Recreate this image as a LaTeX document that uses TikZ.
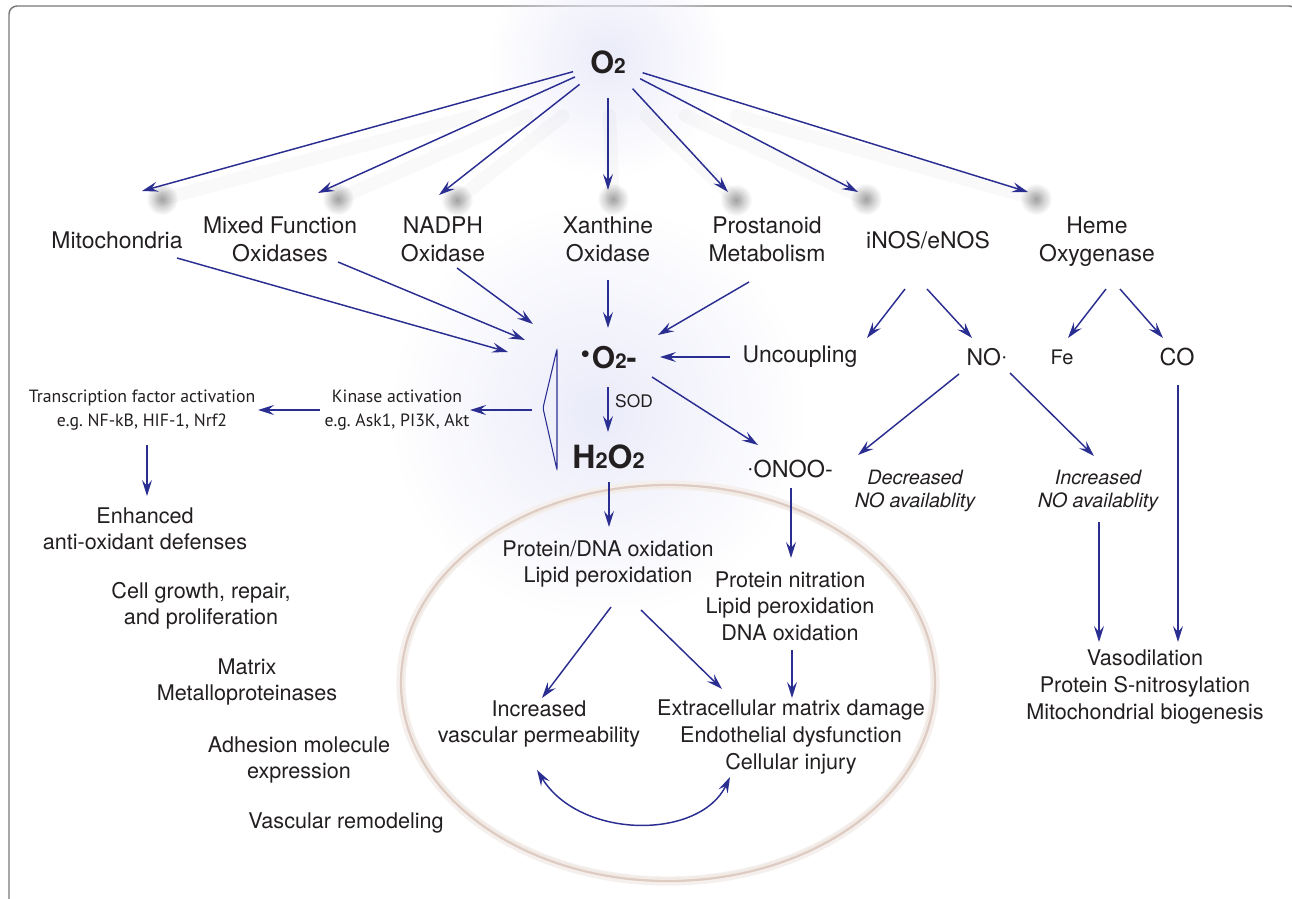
\documentclass[tikz,border=0pt]{standalone}
\usepackage{fontspec}
\setmainfont{TeX Gyre Heros}
\newfontfamily\kinfont{PT Sans}
\usepackage{tikz}
\usetikzlibrary{arrows.meta}
\usetikzlibrary{fadings}
\usetikzlibrary{calc}

\definecolor{rosblue}{RGB}{43,46,145}
\definecolor{rostext}{RGB}{35,31,32}
\definecolor{rosring}{RGB}{222,204,194}
\definecolor{rosglow}{RGB}{234,235,249}
\definecolor{rosframe}{RGB}{120,120,120}

\newcommand{\molsub}[1]{\scalebox{0.68}{#1}}

\tikzfading[name=rosdot, inner color=transparent!0, outer color=transparent!100]

\tikzset{
  every node/.style={text=rostext, inner sep=0.75pt, align=center},
  lbl/.style={font=\fontsize{16.2}{19.9}\selectfont},
  head/.style={font=\fontsize{17.2}{21}\selectfont},
  mol/.style={font=\fontsize{23}{26}\selectfont\bfseries},
  avail/.style={font=\fontsize{14.8}{17.3}\selectfont\itshape},
  kin/.style={font=\kinfont\fontsize{13.3}{18}\selectfont},
  arr/.style={draw=rosblue, line width=1.1pt, -{Stealth[length=12pt,width=7.5pt,inset=4.5pt]}},
  thick arr/.style={arr, line width=1.8pt},
  arrshadow/.style={draw=black, line cap=round},
}

\begin{document}
\begin{tikzpicture}[x=0.75pt,y=0.75pt,yscale=-1,xscale=1]
        \useasboundingbox (0,0) rectangle (1292,899);
        % frame
        \draw[rosframe, line width=1.1pt, rounded corners=6pt] (9,910) -- (9,6) -- (1297,6) -- (1297,910);

        % glows
        \fill[rosglow, path fading=rosdot] (608,58) circle (120);
        \fill[rosglow, path fading=rosdot] (598,412) circle (210);

        % shadows of the upper arrows
        \foreach \x/\y in {162/199, 338/199, 457/200, 613/199, 736/200, 866/199, 1036/199}{
          \fill[black, fill opacity=0.35, path fading=rosdot] (\x,\y) circle (16);
          \draw[arrshadow, draw opacity=0.025, line width=10pt] ($(608,80)!0.3!(\x,\y)$) -- (\x,\y);
        }

        % ring
        \draw[rosring!30, line width=7pt] (668,683) ellipse (267 and 198);
        \draw[rosring, line width=1.7pt] (668,683) ellipse (267 and 198);
        \draw[rosring!45, line width=0.7pt] (668,683) ellipse (264.5 and 195.5);

        % Text Nodes
        \node[mol, circle, minimum size=54pt] (o2) at (608,62) {O\molsub{2}};
        \node[head] (mito) at (117,240) {Mitochondria};
        \node[head] (mixed) at (280,239) {Mixed Function\\Oxidases};
        \node[head] (nadph) at (443,239) {NADPH\\Oxidase};
        \node[head] (xan) at (608,239) {Xanthine\\Oxidase};
        \node[head] (pros) at (767,239) {Prostanoid\\Metabolism};
        \node[head] (inos) at (928,240) {iNOS/eNOS};
        \node[head] (heme) at (1097,242) {Heme\\Oxygenase};

        \node[mol, font=\fontsize{22.5}{26}\selectfont\bfseries] (sup) at (608,358) {\raisebox{0.12em}{\scalebox{1.5}{·}}O\molsub{2}-};
        \node[head] (unc) at (800,357) {Uncoupling};
        \node[head] (no) at (987,357) {NO\raisebox{0.1em}{·}};
        \node[lbl, font=\fontsize{15}{18}\selectfont] (fe) at (1062,357) {Fe};
        \node[head, font=\fontsize{17.5}{21}\selectfont] (co) at (1177,357) {CO};
        \node[font=\fontsize{13}{15}\selectfont] (sod) at (634,401) {SOD};
        \node[mol, font=\fontsize{24}{28}\selectfont\bfseries] (h2o2) at (608.5,457) {H\molsub{2}O\molsub{2}};
        \node[head, font=\fontsize{17.5}{21}\selectfont] (onoo) at (790,469) {\raisebox{0.1em}{·}ONOO-};
        \node[avail] (decr) at (915,491) {Decreased\\NO availablity};
        \node[avail] (incr) at (1098,491) {Increased\\NO availablity};

        \node[kin] (trans) at (142,410) {Transcription factor activation\\e.g.\ NF-kB, HIF-1, Nrf2};
        \node[kin] (kinase) at (397,410) {Kinase activation\\e.g.\ Ask1, PI3K, Akt};

        \node[lbl] (enh) at (145,529) {Enhanced\\anti-oxidant defenses};
        \node[lbl] (cell) at (201,606) {Cell growth, repair,\\and proliferation};
        \node[lbl] (mmp) at (247,682) {Matrix\\Metalloproteinases};
        \node[lbl] (adh) at (299,760) {Adhesion molecule\\expression};
        \node[lbl] (vrem) at (346,823) {Vascular remodeling};

        \node[lbl] (pdna) at (608,564) {Protein/DNA oxidation\\Lipid peroxidation};
        \node[lbl] (nitr) at (790,606) {Protein nitration\\Lipid peroxidation\\DNA oxidation};
        \node[lbl] (perm) at (539,724) {Increased\\vascular permeability};
        \node[lbl] (ecm) at (791,737) {Extracellular matrix damage\\Endothelial dysfunction\\Cellular injury};
        \node[lbl] (vaso) at (1145,687) {Vasodilation\\Protein S-nitrosylation\\Mitochondrial biogenesis};

        % connector ends
        \foreach \n/\x/\y in {t-mito/142/191, t-mixed/318/193, t-nadph/439/195, t-xan/608/190,
            t-pros/728/192, t-inos/858/192, t-heme/1028/192,
            mito-o/177/258, mito-i/508/352, mixed-o/338/262, mixed-i/525/340,
            nadph-o/457/268, nadph-i/533/324, xan-o/608/280, xan-i/608/328,
            pros-o/749/282, pros-i/658/335, unc-o/730/357, unc-i/660/357,
            inos-a/905/289, inos-ai/867/338, inos-b/927/289, inos-bi/972/338,
            heme-a/1106/289, heme-ai/1068/338, heme-b/1120/289, heme-bi/1163/338,
            sup-a/608/387, sup-ai/608/432, sup-b/652/377, sup-bi/758/445,
            no-a/959/374, no-ai/858/455, no-b/1010/373, no-bi/1094/456,
            co-o/1178/385, co-i/1178/642, incr-o/1099/522, incr-i/1099/642,
            onoo-o/791/488, onoo-i/791/558, h2o2-o/609/482, h2o2-i/609/527,
            pdna-a/611/607, pdna-ai/542/698, pdna-b/641/610, pdna-bi/722/689,
            nitr-o/792/650, nitr-i/792/698, perm-o/537/770, ecm-o/730/777,
            brk/543/408, brk-o/532/410, kin-i/470/410, kin-o/320/410, trans-i/258/410,
            trans-o/147/445, enh-i/147/496}
          \coordinate (\n) at (\x,\y);

        % O2 to the sources
        \foreach \t in {mito,mixed,nadph,xan,pros,inos,heme}
          \draw[arr] (o2) -- (t-\t);

        % sources to superoxide
        \foreach \a/\b in {mito-o/mito-i, mixed-o/mixed-i, nadph-o/nadph-i, xan-o/xan-i,
            pros-o/pros-i, unc-o/unc-i, inos-a/inos-ai, inos-b/inos-bi, heme-a/heme-ai,
            heme-b/heme-bi, sup-a/sup-ai, sup-b/sup-bi, no-a/no-ai, no-b/no-bi,
            co-o/co-i, incr-o/incr-i, onoo-o/onoo-i, h2o2-o/h2o2-i, pdna-a/pdna-ai,
            pdna-b/pdna-bi, nitr-o/nitr-i, trans-o/enh-i}
          \draw[arr] (\a) -- (\b);

        % kinase branch
        \draw[rosblue, line width=0.8pt, rounded corners=1.5pt] (557,349) -- (brk) -- (557,470) -- cycle;
        \draw[thick arr] (brk-o) -- (kin-i);
        \draw[thick arr] (kin-o) -- (trans-i);

        % feedback loop
        \draw[arr, {Stealth[length=12pt,width=7.5pt,inset=4.5pt]}-{Stealth[length=12pt,width=7.5pt,inset=4.5pt]}] (perm-o) .. controls (580,840) and (700,840) .. (ecm-o);
\end{tikzpicture}
\end{document}
